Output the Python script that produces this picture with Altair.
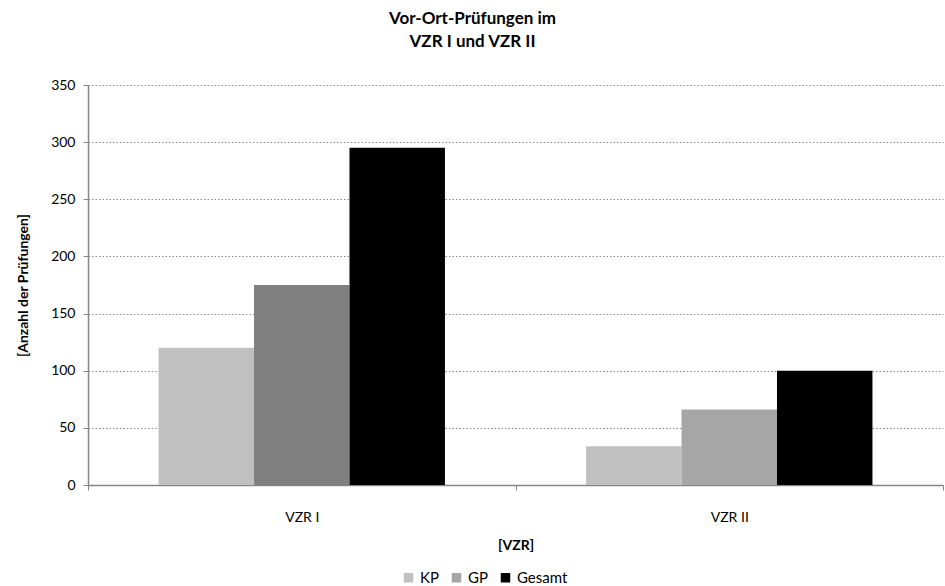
import altair as alt
import pandas as pd

# Vor-Ort-Prüfungen je Verpflichtungszeitraum
periods = ["VZR I", "VZR I", "VZR I", "VZR II", "VZR II", "VZR II"]
series = ["KP", "GP", "Gesamt", "KP", "GP", "Gesamt"]
counts = [120, 175, 295, 34, 66, 100]
shades = ["#c0c0c0", "#808080", "#000000", "#c0c0c0", "#a6a6a6", "#000000"]

legend_order = ["KP", "GP", "Gesamt"]
legend_colors = ["#c0c0c0", "#a6a6a6", "#000000"]

df = pd.DataFrame({"VZR": periods, "Serie": series, "Anzahl": counts, "Farbe": shades})
legend_df = pd.DataFrame({"Serie": legend_order})

FONT = "Lato"

bars = (
    alt.Chart(df)
    .mark_bar()
    .encode(
        x=alt.X(
            "VZR:N",
            title="[VZR]",
            sort=["VZR I", "VZR II"],
            scale=alt.Scale(paddingInner=0, paddingOuter=0),
            axis=alt.Axis(
                labelAngle=0,
                labelPadding=20,
                titlePadding=14,
                tickBand="extent",
                tickSize=5,
            ),
        ),
        xOffset=alt.XOffset(
            "Serie:N",
            sort=legend_order,
            scale=alt.Scale(paddingInner=0, paddingOuter=0.739),
        ),
        y=alt.Y(
            "Anzahl:Q",
            title="[Anzahl der Prüfungen]",
            scale=alt.Scale(domain=[0, 350]),
            axis=alt.Axis(
                values=list(range(0, 351, 50)),
                tickSize=5,
                labelPadding=8,
                titlePadding=20,
            ),
        ),
        color=alt.Color("Farbe:N", scale=None),
    )
)

# legend-only layer: invisible marks carrying the series colours
legend_layer = (
    alt.Chart(legend_df)
    .mark_square(opacity=0)
    .encode(
        x=alt.value(0),
        y=alt.value(0),
        color=alt.Color(
            "Serie:N",
            sort=legend_order,
            scale=alt.Scale(domain=legend_order, range=legend_colors),
            legend=alt.Legend(
                title=None,
                orient="none",
                direction="horizontal",
                legendX=313,
                legendY=485,
                symbolType="square",
                symbolSize=90,
                symbolOpacity=1,
                symbolStrokeWidth=0,
                labelFontSize=15,
                labelFont=FONT,
                labelColor="#000000",
                columnPadding=10,
                labelOffset=4,
            ),
        ),
    )
)

chart = (
    alt.layer(bars, legend_layer)
    .resolve_scale(color="independent")
    .properties(
        width=855,
        height=400,
        title=alt.TitleParams(
            ["Vor-Ort-Prüfungen im", "VZR I und VZR II"],
            fontSize=17,
            font=FONT,
            fontWeight="bold",
            anchor="middle",
            dx=-43,
            offset=27,
            lineHeight=23,
            color="#000000",
        ),
        autosize=alt.AutoSizeParams(type="none"),
        padding={"left": 88, "top": 85, "right": 2, "bottom": 101},
    )
    .configure_view(stroke=None)
    .configure_axis(
        labelFont=FONT,
        titleFont=FONT,
        labelFontSize=14,
        titleFontSize=14,
        titleFontWeight="bold",
        labelColor="#000000",
        titleColor="#000000",
        domainColor="#868686",
        domainWidth=1.5,
        tickColor="#868686",
        gridColor="#8a8a8a",
        gridDash=[1.5, 2],
        gridWidth=1,
    )
    .configure_axisX(grid=False)
)

chart.save("out.html", embed_options={"renderer": "svg", "actions": False})
